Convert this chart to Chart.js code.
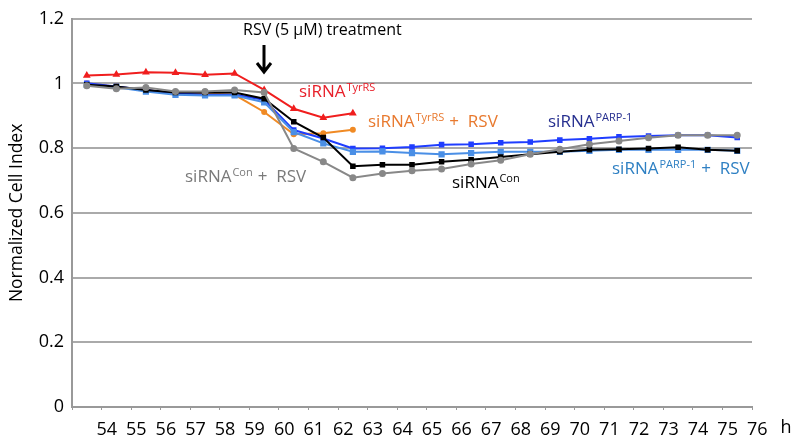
<!DOCTYPE html>
<html>
<head>
<meta charset="utf-8">
<script src="https://cdn.jsdelivr.net/npm/chart.js@4"></script>
<style>
  html, body { margin: 0; padding: 0; background: #fff; }
  #wrap { width: 800px; height: 443px; }
</style>
</head>
<body>
<div id="wrap"><canvas id="cellChart"></canvas></div>
<script>
// x categories (hours)
const hours = ['54','55','56','57','58','59','60','61','62','63','64','65','66','67','68','69','70','71','72','73','74','75','76'];
const yTicks = [0, 0.2, 0.4, 0.6, 0.8, 1, 1.2];

// series values
const siTyrRS = [1.025, 1.028, 1.035, 1.033, 1.027, 1.031, 0.980, 0.922, 0.894, 0.908];
const siTyrRSRsv = [1.000, 0.990, 0.980, 0.970, 0.970, 0.965, 0.912, 0.843, 0.846, 0.857];
const siCon = [0.996, 0.991, 0.980, 0.972, 0.972, 0.972, 0.953, 0.882, 0.833, 0.744, 0.749, 0.749, 0.758, 0.764, 0.773, 0.781, 0.789, 0.795, 0.797, 0.799, 0.803, 0.795, 0.792];
const siConRsv = [0.993, 0.984, 0.988, 0.975, 0.975, 0.980, 0.972, 0.799, 0.758, 0.709, 0.722, 0.730, 0.736, 0.751, 0.763, 0.781, 0.797, 0.812, 0.822, 0.832, 0.840, 0.840, 0.840];
const siParp = [1.001, 0.991, 0.980, 0.970, 0.965, 0.965, 0.950, 0.856, 0.830, 0.799, 0.800, 0.804, 0.811, 0.812, 0.817, 0.819, 0.825, 0.829, 0.835, 0.838, 0.840, 0.840, 0.833];
const siParpRsv = [0.996, 0.988, 0.975, 0.965, 0.963, 0.963, 0.942, 0.850, 0.815, 0.789, 0.790, 0.785, 0.781, 0.785, 0.789, 0.789, 0.789, 0.792, 0.795, 0.795, 0.795, 0.795, 0.792];

const FONT = "'Open Sans', sans-serif";

const line = (data, color, style, radius) => ({
  data: data,
  borderColor: color,
  backgroundColor: color,
  borderWidth: 2,
  pointStyle: style,
  pointRadius: radius,
  pointHoverRadius: radius,
  tension: 0,
  fill: false
});

// draw "siRNA" + superscript + optional suffix
const drawLabel = (ctx, x, y, sup, suffix, color) => {
  ctx.fillStyle = color;
  ctx.font = `17px ${FONT}`;
  ctx.fillText('siRNA', x, y);
  let w = ctx.measureText('siRNA').width;
  ctx.font = `11px ${FONT}`;
  ctx.fillText(sup, x + w + 1, y - 6);
  w += ctx.measureText(sup).width + 1;
  if (suffix) {
    ctx.font = `17px ${FONT}`;
    ctx.fillText(suffix, x + w + 5, y);
  }
};

const annotations = {
  id: 'annotations',
  afterDatasetsDraw(chart) {
    const ctx = chart.ctx;
    ctx.save();
    ctx.textBaseline = 'alphabetic';
    ctx.textAlign = 'left';

    // treatment note and arrow
    ctx.fillStyle = '#000';
    ctx.font = `16px ${FONT}`;
    ctx.fillText('RSV (5 \u03bcM) treatment', 243, 35);
    ctx.strokeStyle = '#000';
    ctx.lineWidth = 3;
    ctx.beginPath();
    ctx.moveTo(264, 45);
    ctx.lineTo(264, 71);
    ctx.moveTo(257, 63);
    ctx.lineTo(264, 72);
    ctx.lineTo(271, 63);
    ctx.stroke();

    drawLabel(ctx, 299, 97, 'TyrRS', '', '#e8202a');
    drawLabel(ctx, 368, 127, 'TyrRS', '+  RSV', '#e8792e');
    drawLabel(ctx, 548, 127, 'PARP-1', '', '#262f8f');
    drawLabel(ctx, 185, 182, 'Con', '+  RSV', '#7a7a7a');
    drawLabel(ctx, 452, 188, 'Con', '', '#000');
    drawLabel(ctx, 612, 174, 'PARP-1', '+  RSV', '#2f80c3');

    // unit at end of x axis
    ctx.fillStyle = '#000';
    ctx.font = `18px ${FONT}`;
    ctx.textBaseline = 'middle';
    ctx.textAlign = 'center';
    ctx.fillText('h', 786, chart.scales.x.top + 21);
    ctx.restore();
  }
};

new Chart(document.getElementById('cellChart'), {
  type: 'line',
  data: {
    labels: hours,
    datasets: [
      line(siConRsv, '#888888', 'circle', 2.5),
      line(siCon, '#000000', 'rect', 2.5),
      line(siParpRsv, '#4a8fe6', 'rect', 3),
      line(siParp, '#1f3dff', 'rect', 2.5),
      line(siTyrRSRsv, '#f08a24', 'circle', 2),
      line(siTyrRS, '#f01e1e', 'triangle', 2.5)
    ]
  },
  options: {
    responsive: true,
    maintainAspectRatio: false,
    animation: false,
    layout: { padding: { top: 14, right: 48, left: 0, bottom: 0 } },
    plugins: {
      legend: { display: false },
      tooltip: { enabled: false }
    },
    scales: {
      x: {
        type: 'category',
        offset: true,
        afterFit: (scale) => { scale.height = 36; },
        border: { color: '#999', width: 2 },
        grid: { display: true, drawOnChartArea: false, offset: true, tickLength: 3, color: '#999', lineWidth: 1 },
        ticks: {
          color: '#000',
          font: { family: FONT, size: 18 },
          labelOffset: 20,
          padding: 9,
          maxRotation: 0,
          autoSkip: false
        }
      },
      y: {
        min: 0,
        max: 1.2,
        afterFit: (scale) => { scale.width = 72; },
        afterBuildTicks: (scale) => { scale.ticks = yTicks.map(v => ({ value: v })); },
        border: { color: '#999', width: 2 },
        grid: { color: '#aaa', lineWidth: 2, drawTicks: false },
        ticks: {
          color: '#000',
          padding: 8,
          font: { family: FONT, size: 18 },
          callback: (v) => String(Math.round(v * 10) / 10)
        },
        title: {
          display: true,
          text: 'Normalized Cell Index',
          color: '#000',
          font: { family: FONT, size: 17.5 },
          padding: { top: 7, bottom: 0 }
        }
      }
    }
  },
  plugins: [annotations]
});
</script>
</body>
</html>
